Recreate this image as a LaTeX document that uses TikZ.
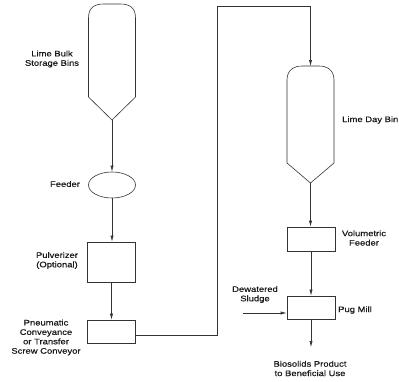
\documentclass[tikz,border=0pt]{standalone}
\usepackage{fontspec}
\setmainfont[FakeStretch=1.18,FakeBold=0.6]{Liberation Sans}
\usetikzlibrary{arrows.meta,shapes.geometric,calc}
\begin{document}
\begin{tikzpicture}[x=1pt,y=-1pt,
  line/.style={draw=black!80,line width=0.6pt},
  flow/.style={line,-{Latex[length=6pt,width=3.2pt]}},
  boxnode/.style={line,rectangle,minimum width=48pt,inner sep=0pt},
  lbl/.style={font=\fontsize{8}{9.4}\selectfont,align=center,inner sep=0pt,text=black!90}]
\useasboundingbox (0,0) rectangle (399,381);
% left silo
\draw[line] (112,120) coordinate (bulktip) -- (88.5,97) -- (88.5,18)
  .. controls (88.5,7) and (95,4) .. (104,4) -- (120,4)
  .. controls (129,4) and (135.5,7) .. (135.5,18) -- (135.5,97) -- cycle;
\node[lbl] (bulklbl) at (52,59) {Lime Bulk\\Storage Bins};
% feeder
\node[line,ellipse,minimum width=47pt,minimum height=26pt,inner sep=0pt] (feeder) at (112,185) {};
\node[lbl] (feederlbl) at (65,184) {Feeder};
% pulverizer
\node[boxnode,minimum height=40pt] (pulv) at (111.5,262) {};
\node[lbl] (pulvlbl) at (57,260.5) {Pulverizer\\(Optional)};
% pneumatic
\node[boxnode,minimum height=23pt] (pneu) at (111.5,331.5) {};
\node[lbl] (pneulbl) at (46,337.5) {Pneumatic\\Conveyance\\or Transfer\\Screw Conveyor};
% right silo
\draw[line] (310.5,183) coordinate (daytip) -- (287,163) -- (287,80)
  .. controls (287,70) and (294,66) .. (302,66) -- (319,66)
  .. controls (327,66) and (334,70) .. (334,80) -- (334,163) -- cycle;
\coordinate (daytop) at (310.5,66);
\node[lbl,anchor=west] (daylbl) at (342,120) {Lime Day Bin};
% volumetric feeder
\node[boxnode,minimum height=24pt] (vol) at (311,239) {};
\node[lbl] (vollbl) at (364,238) {Volumetric\\Feeder};
% pug mill
\node[boxnode,minimum height=23pt] (pug) at (311,307.5) {};
\node[lbl] (puglbl) at (355,310) {Pug Mill};
\node[lbl] (sludgelbl) at (255,294.5) {Dewatered\\Sludge};
\coordinate (sludgein) at (243,313);
\node[lbl] (biolbl) at (310,368.5) {Biosolids Product\\to Beneficial Use};
\coordinate (bioend) at (311,347);
\coordinate (bendA) at (217,335);
\coordinate (bendB) at (217,6);
% connectors
\draw[flow] (bulktip) -- (feeder.north);
\draw[flow] (feeder.south) -- (pulv.north -| feeder.south);
\draw[flow] (pulv.south) -- (pneu.north);
\draw[flow] (pneu.east |- bendA) -- (bendA) -- (bendB) -| (daytop);
\draw[flow] (daytip) -- (vol.north -| daytip);
\draw[flow] (vol.south) -- (pug.north);
\draw[flow] (sludgein) -- (pug.west |- sludgein);
\draw[flow] (pug.south) -- (bioend);
\end{tikzpicture}
\end{document}
